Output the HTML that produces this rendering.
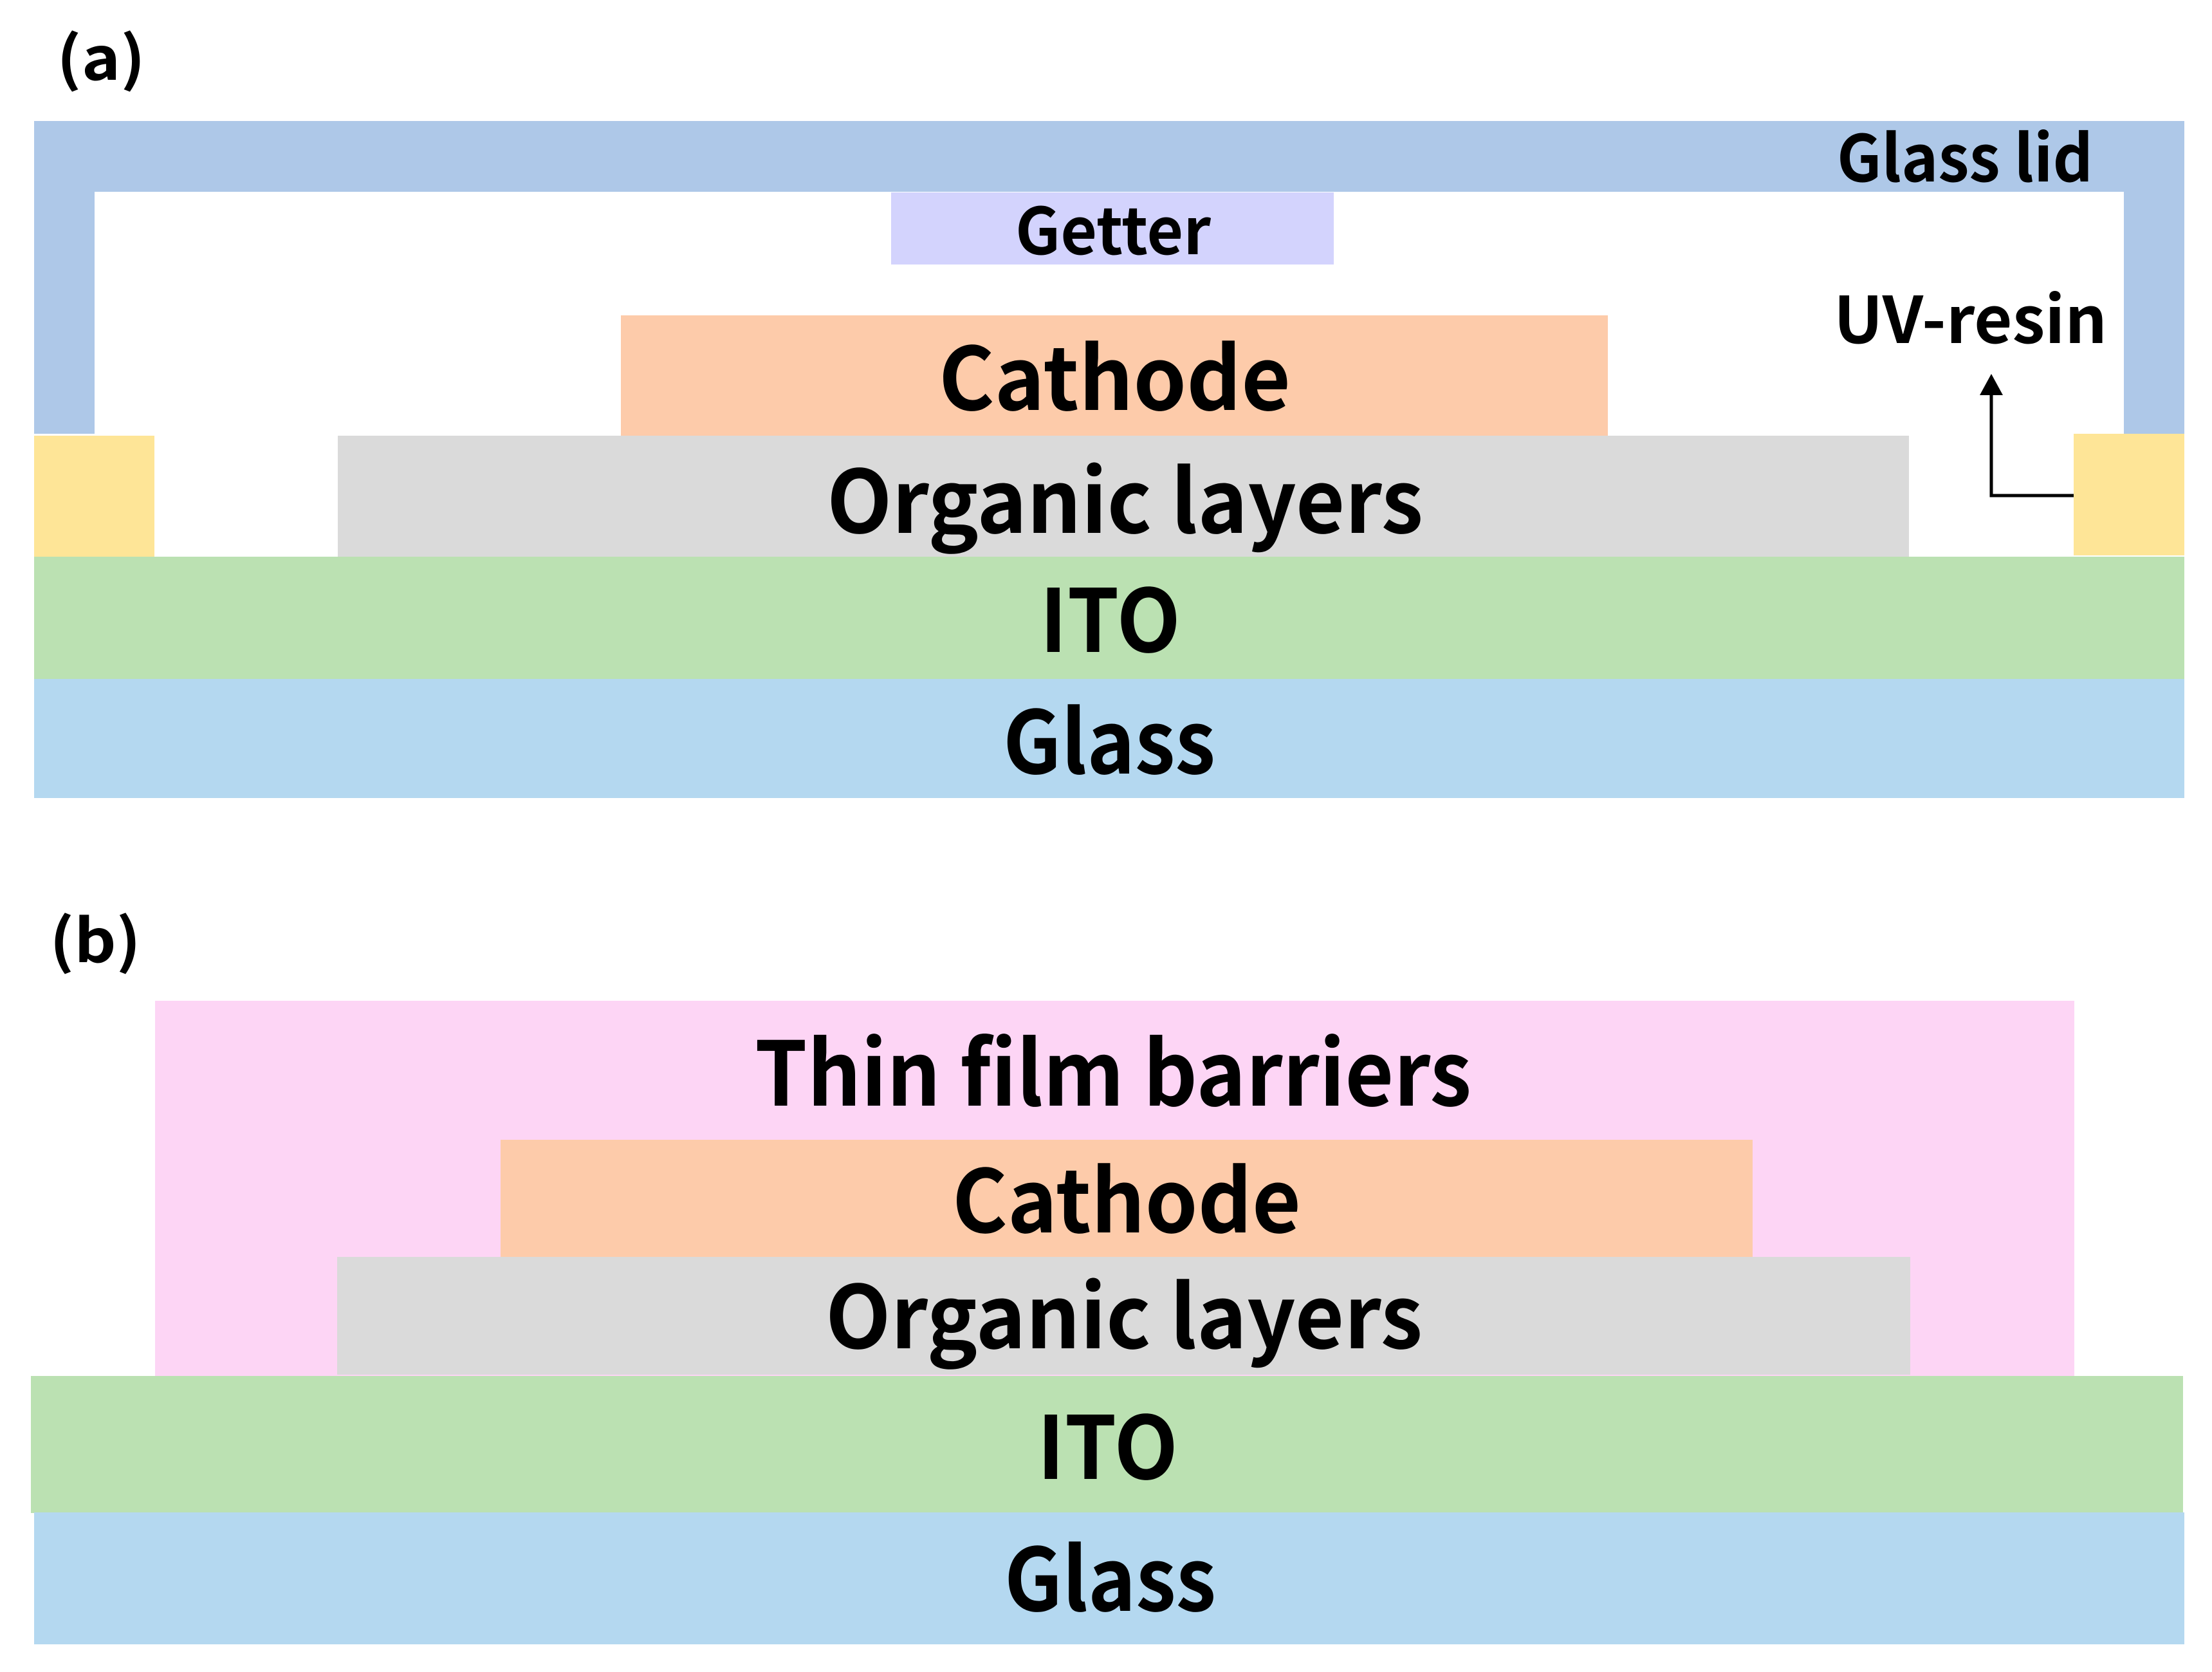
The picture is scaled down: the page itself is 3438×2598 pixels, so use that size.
<!DOCTYPE html>
<html><head><meta charset="utf-8"><style>
html,body{margin:0;padding:0;background:#fff;}
svg{display:block;}
text{font-family:"Noto Sans CJK SC","Liberation Sans",sans-serif;font-weight:700;fill:#000;}
</style></head><body>
<svg width="3438" height="2598" viewBox="0 0 3438 2598" xmlns="http://www.w3.org/2000/svg">
<rect width="3438" height="2598" fill="#fff"/>
<text x="88" y="124" font-size="92" textLength="138" lengthAdjust="spacingAndGlyphs">(a)</text>
<rect x="53" y="188" width="3342" height="110" fill="#aec8e8"/>
<rect x="53" y="188" width="94" height="486" fill="#aec8e8"/>
<rect x="3301" y="188" width="94" height="486" fill="#aec8e8"/>
<text x="2855" y="282" font-size="100" textLength="398" lengthAdjust="spacingAndGlyphs">Glass lid</text>
<rect x="1385" y="299" width="688" height="112" fill="#d3d3fd"/>
<text x="1578" y="395" font-size="100" textLength="304" lengthAdjust="spacingAndGlyphs">Getter</text>
<rect x="53" y="677" width="187" height="188" fill="#fee597"/>
<rect x="3223" y="674" width="172" height="189" fill="#fee597"/>
<text x="2850" y="533" font-size="100" textLength="425" lengthAdjust="spacingAndGlyphs">UV-resin</text>
<polyline points="3095,605 3095,770 3223,770" fill="none" stroke="#000" stroke-width="5"/>
<polygon points="3095,581 3077,614 3113,614" fill="#000"/>
<rect x="965" y="490" width="1534" height="188" fill="#fdcbaa"/>
<text x="1459" y="637" font-size="135" textLength="547" lengthAdjust="spacingAndGlyphs">Cathode</text>
<rect x="525" y="677" width="2442" height="189" fill="#dadada"/>
<text x="1285" y="828" font-size="135" textLength="927" lengthAdjust="spacingAndGlyphs">Organic layers</text>
<rect x="53" y="865" width="3342" height="191" fill="#bbe1b2"/>
<text x="1616" y="1013" font-size="135" textLength="219" lengthAdjust="spacingAndGlyphs">ITO</text>
<rect x="53" y="1055" width="3342" height="185" fill="#b4d8f0"/>
<text x="1559" y="1202" font-size="135" textLength="330" lengthAdjust="spacingAndGlyphs">Glass</text>

<text x="77" y="1495" font-size="92" textLength="142" lengthAdjust="spacingAndGlyphs">(b)</text>
<rect x="241" y="1555" width="2983" height="585" fill="#fdd5f5"/>
<text x="1173" y="1718" font-size="138" textLength="1114" lengthAdjust="spacingAndGlyphs">Thin film barriers</text>
<rect x="778" y="1771" width="1946" height="183" fill="#fdcbaa"/>
<text x="1480" y="1915" font-size="135" textLength="542" lengthAdjust="spacingAndGlyphs">Cathode</text>
<rect x="524" y="1953" width="2445" height="183" fill="#dadada"/>
<text x="1283" y="2095" font-size="135" textLength="928" lengthAdjust="spacingAndGlyphs">Organic layers</text>
<rect x="48" y="2138" width="3345" height="213" fill="#bbe1b2"/>
<text x="1612" y="2298" font-size="135" textLength="219" lengthAdjust="spacingAndGlyphs">ITO</text>
<rect x="53" y="2350" width="3342" height="205" fill="#b4d8f0"/>
<text x="1561" y="2503" font-size="135" textLength="329" lengthAdjust="spacingAndGlyphs">Glass</text>
</svg>
</body></html>
